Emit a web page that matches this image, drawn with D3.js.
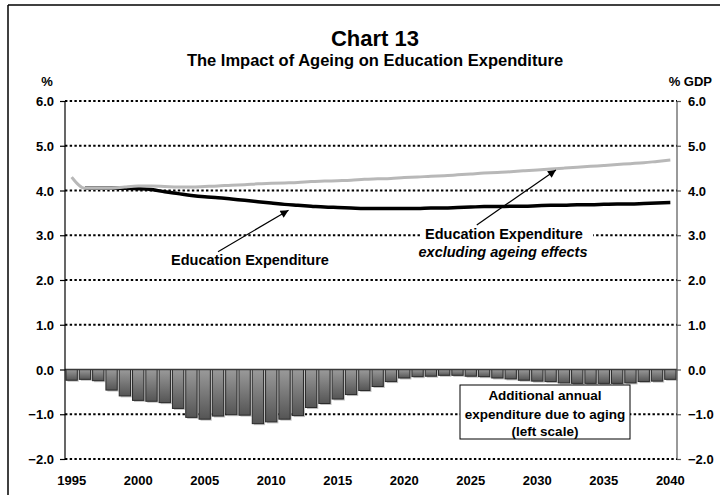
<!DOCTYPE html>
<html>
<head>
<meta charset="utf-8">
<script src="https://cdn.jsdelivr.net/npm/d3@7"></script>
<style>
  html, body { margin: 0; padding: 0; background: #fff; }
  svg { display: block; }
  text { font-family: "Liberation Sans", Arial, Helvetica, sans-serif; font-weight: bold; fill: #000; }
</style>
</head>
<body>
<svg id="chart" width="720" height="495"></svg>
<script>
// Years 1995–2040
const years = d3.range(1995, 2041);

// Additional annual expenditure due to aging (% GDP, left scale)
const agingEffect = [
  -0.24, -0.22, -0.25, -0.46, -0.59, -0.69, -0.71, -0.74, -0.87, -1.07,
  -1.11, -1.04, -1.01, -1.02, -1.21, -1.17, -1.11, -1.03, -0.85, -0.76,
  -0.66, -0.56, -0.47, -0.38, -0.27, -0.19, -0.16, -0.15, -0.13, -0.13,
  -0.15, -0.16, -0.19, -0.21, -0.24, -0.26, -0.27, -0.30, -0.31, -0.31,
  -0.31, -0.31, -0.30, -0.27, -0.26, -0.22
];

// Education expenditure excluding ageing effects (% GDP)
const eduExclAgeing = [
  4.30, 4.05, 4.05, 4.05, 4.08, 4.10, 4.10, 4.09, 4.08, 4.08,
  4.09, 4.10, 4.12, 4.13, 4.15, 4.16, 4.17, 4.18, 4.20, 4.21,
  4.22, 4.23, 4.25, 4.26, 4.27, 4.29, 4.30, 4.32, 4.33, 4.35,
  4.37, 4.39, 4.40, 4.42, 4.44, 4.46, 4.48, 4.50, 4.52, 4.54,
  4.56, 4.58, 4.60, 4.62, 4.65, 4.68
];

// Education expenditure (% GDP), from 1996
const eduYears = d3.range(1996, 2041);
const eduExpenditure = [
  4.05, 4.05, 4.05, 4.05, 4.04, 4.02, 3.97, 3.93, 3.89,
  3.86, 3.84, 3.81, 3.78, 3.75, 3.72, 3.69, 3.67, 3.65, 3.63,
  3.62, 3.61, 3.60, 3.60, 3.60, 3.60, 3.60, 3.61, 3.61, 3.62,
  3.63, 3.64, 3.64, 3.65, 3.65, 3.66, 3.67, 3.67, 3.68, 3.68,
  3.69, 3.70, 3.70, 3.71, 3.72, 3.73
];

const yTicks = [6, 5, 4, 3, 2, 1, 0, -1, -2];
const xLabelYears = [1995, 2000, 2005, 2010, 2015, 2020, 2025, 2030, 2035, 2040];

const svg = d3.select("#chart");

// frame edges
svg.append("line").attr("x1", 8).attr("x2", 720).attr("y1", 5).attr("y2", 5)
  .attr("stroke", "#000").attr("stroke-width", 1.5);
svg.append("line").attr("x1", 8).attr("x2", 8).attr("y1", 5).attr("y2", 495)
  .attr("stroke", "#000").attr("stroke-width", 1.5);

const plotL = 65, plotR = 677, plotT = 101, plotB = 459;

const x = d3.scaleBand().domain(years).range([plotL, plotR]).paddingInner(0.15).paddingOuter(0.075);
const y = d3.scaleLinear().domain([-2, 6]).range([plotB, plotT]);
const cx = yr => x(yr) + x.bandwidth() / 2;
// continuous year position (band centres), used for annotation arrows
const xYear = d3.scaleLinear().domain([1995, 2040]).range([cx(1995), cx(2040)]);

// titles
svg.append("text").attr("x", 375).attr("y", 46).attr("text-anchor", "middle")
  .style("font-size", "22px").text("Chart 13");
svg.append("text").attr("x", 375).attr("y", 66).attr("text-anchor", "middle")
  .style("font-size", "16.5px").text("The Impact of Ageing on Education Expenditure");
svg.append("text").attr("x", 47).attr("y", 86).attr("text-anchor", "middle")
  .style("font-size", "13px").text("%");
svg.append("text").attr("x", 712).attr("y", 86).attr("text-anchor", "end")
  .style("font-size", "13px").text("% GDP");

// dotted gridlines
svg.append("g").selectAll("line").data(yTicks.filter(d => d !== 0)).join("line")
  .attr("x1", plotL).attr("x2", plotR)
  .attr("y1", d => y(d)).attr("y2", d => y(d))
  .attr("stroke", "#000").attr("stroke-width", 2)
  .attr("stroke-dasharray", "2.4,2.3");

// bar gradient
const defs = svg.append("defs");
const grad = defs.append("linearGradient").attr("id", "barGrad")
  .attr("x1", 0).attr("y1", 0).attr("x2", 0).attr("y2", 1);
grad.append("stop").attr("offset", "0%").attr("stop-color", "#9a9a9a");
grad.append("stop").attr("offset", "100%").attr("stop-color", "#555555");

// bar shadows
svg.append("g").selectAll("rect").data(years).join("rect")
  .attr("x", (d) => x(d) + 1.5)
  .attr("y", y(0))
  .attr("width", x.bandwidth())
  .attr("height", (d, i) => y(agingEffect[i]) - y(0) + 1.5)
  .attr("fill", "#c4c4c4");

// bars
svg.append("g").selectAll("rect").data(years).join("rect")
  .attr("x", d => x(d))
  .attr("y", y(0))
  .attr("width", x.bandwidth())
  .attr("height", (d, i) => y(agingEffect[i]) - y(0))
  .attr("fill", "url(#barGrad)")
  .attr("stroke", "#2a2a2a").attr("stroke-width", 1);

// zero line
svg.append("line").attr("x1", plotL).attr("x2", plotR)
  .attr("y1", y(0)).attr("y2", y(0))
  .attr("stroke", "#3a3a3a").attr("stroke-width", 1.5);

// left axis
const axL = svg.append("g").attr("transform", `translate(${plotL},0)`)
  .call(d3.axisLeft(y).tickValues(yTicks).tickSize(5).tickFormat(d3.format(".1f")));
axL.select(".domain").attr("stroke", "#000").attr("stroke-width", 1.2)
  .attr("d", `M0,${plotT}V${plotB}`);
axL.selectAll(".tick line").attr("stroke", "#000").attr("stroke-width", 1.2);
axL.selectAll(".tick text").attr("x", -11).attr("dy", "0.36em")
  .style("font-size", "13px").attr("fill", "#000");
axL.attr("font-family", null).attr("font-size", null);

// right axis
const axR = svg.append("g").attr("transform", `translate(${plotR},0)`)
  .call(d3.axisRight(y).tickValues(yTicks).tickSize(4).tickFormat(d3.format(".1f")));
axR.select(".domain").attr("stroke", "#555").attr("stroke-width", 1.2)
  .attr("d", `M0,${plotT}V${plotB}`);
axR.selectAll(".tick line").attr("stroke", "#555").attr("stroke-width", 1.2);
axR.selectAll(".tick text").attr("x", 11).attr("dy", "0.36em")
  .style("font-size", "13px").attr("fill", "#000");
axR.attr("font-family", null).attr("font-size", null);

// x labels
const axB = svg.append("g").attr("transform", `translate(0,${plotB})`)
  .call(d3.axisBottom(x).tickValues(xLabelYears).tickSize(0).tickPadding(17));
axB.select(".domain").remove();
axB.selectAll(".tick text").style("font-size", "13px").attr("fill", "#000");
axB.attr("font-family", null).attr("font-size", null);

// lines
const lineGen = d3.line().x(d => cx(d[0])).y(d => y(d[1])).curve(d3.curveMonotoneX);
svg.append("path")
  .datum(eduYears.map((yr, i) => [yr, eduExpenditure[i]]))
  .attr("d", lineGen).attr("fill", "none")
  .attr("stroke", "#000").attr("stroke-width", 3.5).attr("stroke-linejoin", "round");
svg.append("path")
  .datum(years.map((yr, i) => [yr, eduExclAgeing[i]]))
  .attr("d", lineGen).attr("fill", "none")
  .attr("stroke", "#b8b8b8").attr("stroke-width", 3).attr("stroke-linejoin", "round");

// arrow marker
defs.append("marker").attr("id", "arrowHead")
  .attr("viewBox", "0 0 10 10").attr("refX", 10).attr("refY", 5)
  .attr("markerWidth", 10).attr("markerHeight", 8).attr("markerUnits", "userSpaceOnUse")
  .attr("orient", "auto")
  .append("path").attr("d", "M0,0L10,5L0,10Z").attr("fill", "#000");

function arrow(fromYear, fromVal, toYear, toVal) {
  svg.append("line")
    .attr("x1", xYear(fromYear)).attr("y1", y(fromVal))
    .attr("x2", xYear(toYear)).attr("y2", y(toVal))
    .attr("stroke", "#000").attr("stroke-width", 1.2)
    .attr("marker-end", "url(#arrowHead)");
}

// annotation: education expenditure
svg.append("text").attr("x", 250).attr("y", 265).attr("text-anchor", "middle")
  .style("font-size", "14.5px").text("Education Expenditure");
arrow(2006.0, 2.63, 2011.3, 3.56);

// annotation: excluding ageing effects (white backing over the gridline)
svg.append("rect").attr("x", 421).attr("y", 226).attr("width", 172).attr("height", 36)
  .attr("fill", "#fff");
svg.append("text").attr("x", 504).attr("y", 239).attr("text-anchor", "middle")
  .style("font-size", "14.5px").text("Education Expenditure");
svg.append("text").attr("x", 503).attr("y", 257).attr("text-anchor", "middle")
  .style("font-size", "14.5px").style("font-style", "italic").text("excluding ageing effects");
arrow(2025.45, 3.23, 2031.4, 4.46);

// annotation box for bars
const box = svg.append("g");
box.append("rect").attr("x", 460).attr("y", 385).attr("width", 170).attr("height", 54)
  .attr("fill", "#fff").attr("stroke", "#000").attr("stroke-width", 1);
[["Additional annual", 400], ["expenditure due to aging", 419], ["(left scale)", 436]].forEach(([t, yy]) => {
  box.append("text").attr("x", 545).attr("y", yy).attr("text-anchor", "middle")
    .style("font-size", "13.5px").text(t);
});
</script>
</body>
</html>
